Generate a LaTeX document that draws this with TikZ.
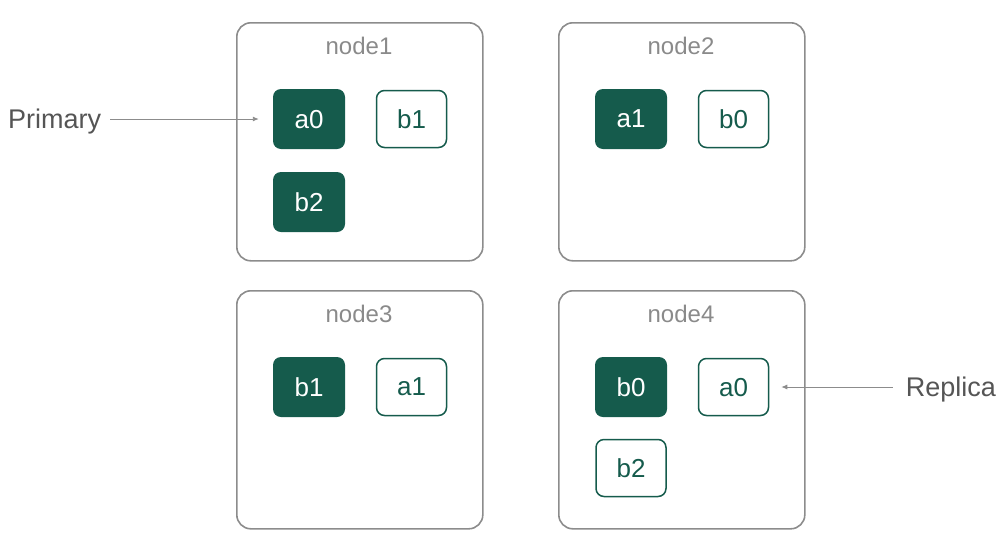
\documentclass[tikz,border=0pt]{standalone}
\usepackage{fontspec}
\setmainfont{Liberation Sans}
\usetikzlibrary{arrows.meta}
\definecolor{shardgreen}{HTML}{155B4C}
\definecolor{framegray}{HTML}{8C8C8C}
\definecolor{titlegray}{HTML}{8A8A8A}
\definecolor{labelgray}{HTML}{555555}
\tikzset{
  server/.style={draw=framegray, line width=1.6pt, rounded corners=14pt, minimum width=246pt, minimum height=238pt, anchor=north west, inner sep=0pt},
  servertitle/.style={text=titlegray, font=\fontsize{24}{28}\selectfont, anchor=center},
  primarybox/.style={fill=shardgreen, rounded corners=8pt, minimum width=72pt, minimum height=60pt, text=white, font=\fontsize{26}{30}\selectfont, inner sep=0pt, text depth=0pt},
  replicabox/.style={draw=shardgreen, line width=1.5pt, fill=white, rounded corners=8pt, minimum width=70pt, minimum height=57pt, text=shardgreen, font=\fontsize{26}{30}\selectfont, inner sep=0pt, text depth=0pt},
  sidelabel/.style={text=labelgray, font=\fontsize{27}{30}\selectfont, inner sep=0pt},
  pointer/.style={draw=framegray, line width=0.9pt, -{Latex[length=6pt,width=5pt]}}
}
\begin{document}
\begin{tikzpicture}[x=1pt,y=-1pt]
\useasboundingbox (0,0) rectangle (1003,536);
% servers
\node[server] (n1) at (236,22) {};
\node[server] (n2) at (558,22) {};
\node[server] (n3) at (236,290) {};
\node[server] (n4) at (558,290) {};
\node[servertitle] (t1) at (359,46) {node1};
\node[servertitle] (t2) at (681,46) {node2};
\node[servertitle] (t3) at (359,314) {node3};
\node[servertitle] (t4) at (681,314) {node4};
% node1
\node[primarybox] (n1a0) at (309,119) {a0};
\node[replicabox] (n1b1) at (411.5,119) {b1};
\node[primarybox] (n1b2) at (309,202) {b2};
% node2
\node[primarybox] (n2a1) at (631,119) {a1};
\node[replicabox] (n2b0) at (733.5,119) {b0};
% node3
\node[primarybox] (n3b1) at (309,387) {b1};
\node[replicabox] (n3a1) at (411.5,387) {a1};
% node4
\node[primarybox] (n4b0) at (631,387) {b0};
\node[replicabox] (n4a0) at (733.5,387) {a0};
\node[replicabox] (n4b2) at (631,468) {b2};
% labels
\node[sidelabel, anchor=west] (prim) at (8,122) {Primary};
\node[sidelabel, anchor=east] (repl) at (996,390) {Replica};
\coordinate (pstart) at ([xshift=9pt]prim.east |- n1a0.west);
\coordinate (pend) at ([xshift=-14pt]n1a0.west);
\coordinate (rstart) at ([xshift=-13pt]repl.west |- n4a0.east);
\coordinate (rend) at ([xshift=12pt]n4a0.east);
\draw[pointer] (pstart) -- (pend);
\draw[pointer] (rstart) -- (rend);
\end{tikzpicture}
\end{document}
